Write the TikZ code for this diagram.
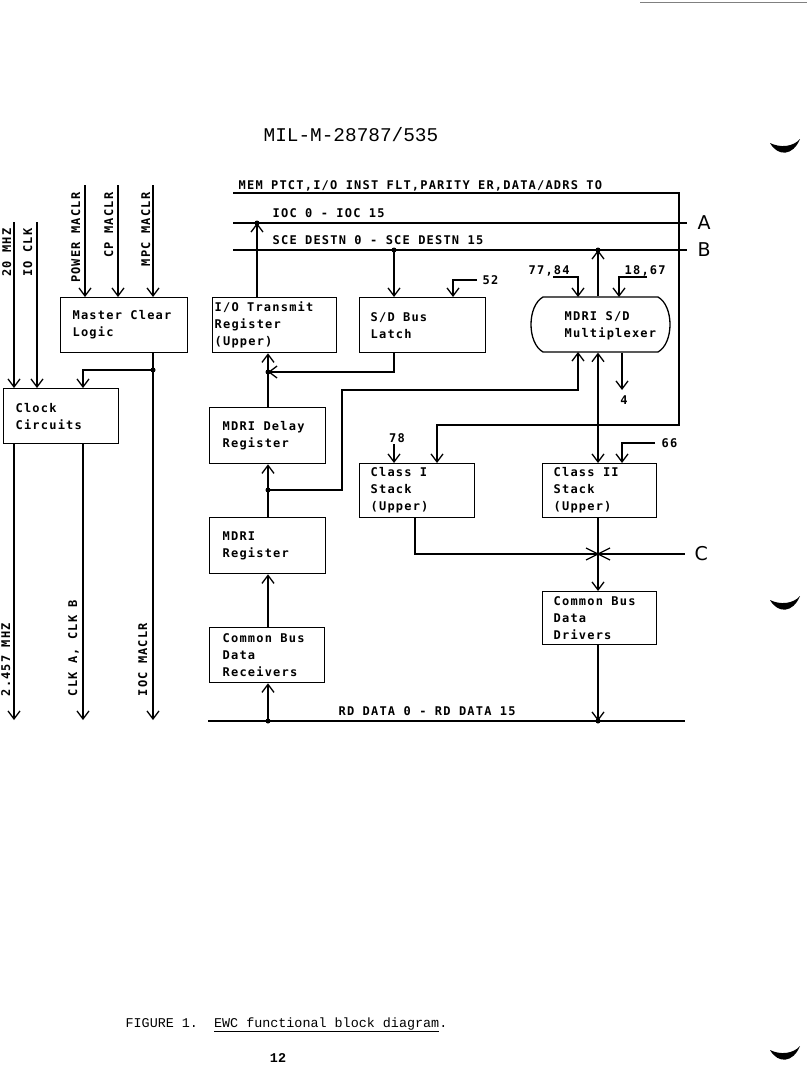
\documentclass[tikz,border=0pt]{standalone}
\usepackage{fontspec}
\usetikzlibrary{arrows.meta,calc}
\newfontfamily\dmfont[LetterSpace=10]{DejaVu Sans Mono}
\newfontfamily\courfont{Liberation Mono}
\newfontfamily\plotfont{DejaVu Sans}
\begin{document}
\begin{tikzpicture}[x=1pt,y=-1pt,line width=1.3pt,
  arr/.style={-{Straight Barb[length=8pt,width=12pt]}},
  arrb/.style={{Straight Barb[length=8pt,width=12pt]}-{Straight Barb[length=8pt,width=12pt]}},
  bx/.style={draw,rectangle,anchor=north west,inner sep=0pt},
  bt/.style={font=\dmfont\bfseries\fontsize{12}{17}\selectfont,align=left,anchor=west,inner sep=0pt},
  lbl/.style={font=\dmfont\bfseries\fontsize{12}{14}\selectfont,inner sep=0pt},
  vl/.style={lbl,rotate=90},
  big/.style={font=\plotfont\fontsize{19}{19}\selectfont,inner sep=0pt},
  jdot/.style={circle,fill,inner sep=0pt,minimum size=5pt},
  pagemark/.style={fill=black}]
\useasboundingbox (0,0) rectangle (807,1070);
\fill[white] (0,0) rectangle (807,1070);

% page furniture
\draw[line width=0.8pt,gray] (640,2) -- (807,2);
\node[font=\courfont\fontsize{19.4}{22}\selectfont,anchor=base west,inner sep=0pt] (title) at (263,142) {MIL-M-28787/535};
\fill[pagemark] (770,143) .. controls (778,157) and (793,156) .. (800,139) .. controls (793,147) and (780,148) .. cycle;
\fill[pagemark] (770,600) .. controls (778,614) and (793,613) .. (800,596) .. controls (793,604) and (780,605) .. cycle;
\fill[pagemark] (770,1050) .. controls (778,1064) and (793,1063) .. (800,1046) .. controls (793,1054) and (780,1055) .. cycle;
\node[font=\courfont\fontsize{13.4}{16}\selectfont,anchor=base west,inner sep=0pt] (cap) at (125,1027) {FIGURE 1.\ \ \underline{EWC functional block diagram}.};
\node[font=\courfont\bfseries\fontsize{13.4}{16}\selectfont,inner sep=0pt] (pg) at (278,1058) {12};

% boxes
\node[bx,minimum width=127pt,minimum height=55pt] (mcl) at (60,297) {};
\node[bx,minimum width=115pt,minimum height=55pt] (clk) at (3,388) {};
\node[bx,minimum width=124pt,minimum height=55pt] (iot) at (212,297) {};
\node[bx,minimum width=126pt,minimum height=55pt] (sdl) at (359,297) {};
\node[inner sep=0pt,minimum width=139pt,minimum height=55pt] (mux) at (600.5,324.5) {};
\draw (543,297) -- (658,297) .. controls (674,306) and (674,343) .. (658,352) -- (543,352) .. controls (527,343) and (527,306) .. cycle;
\node[bx,minimum width=116pt,minimum height=56pt] (mdd) at (209,407) {};
\node[bx,minimum width=116pt,minimum height=56pt] (mdr) at (209,517) {};
\node[bx,minimum width=115pt,minimum height=55pt] (cbr) at (209,627) {};
\node[bx,minimum width=115pt,minimum height=54pt] (cs1) at (359,463) {};
\node[bx,minimum width=114pt,minimum height=54pt] (cs2) at (542,463) {};
\node[bx,minimum width=114pt,minimum height=53pt] (cbd) at (542,591) {};

% box texts
\node[bt] (mclT) at ($(mcl.west)+(12,0)$) {Master Clear\\Logic};
\node[bt] (clkT) at ($(clk.west)+(12,0)$) {Clock\\Circuits};
\node[bt] (iotT) at ($(iot.west)+(2,0)$) {I/O Transmit\\Register\\(Upper)};
\node[bt] (sdlT) at ($(sdl.west)+(11,0)$) {S/D Bus\\Latch};
\node[bt] (muxT) at (564,326) {MDRI S/D\\Multiplexer};
\node[bt] (mddT) at ($(mdd.west)+(13,0)$) {MDRI Delay\\Register};
\node[bt] (mdrT) at ($(mdr.west)+(13,0)$) {MDRI\\Register};
\node[bt] (cbrT) at ($(cbr.west)+(13,0)$) {Common Bus\\Data\\Receivers};
\node[bt] (cs1T) at ($(cs1.west)+(11,0)$) {Class I\\Stack\\(Upper)};
\node[bt] (cs2T) at ($(cs2.west)+(11,0)$) {Class II\\Stack\\(Upper)};
\node[bt] (cbdT) at ($(cbd.west)+(11,0)$) {Common Bus\\Data\\Drivers};

% coordinates
\coordinate (memL) at (233,193); \coordinate (memR) at (679,193);
\coordinate (iocL) at (233,223); \coordinate (iocR) at (687,223);
\coordinate (sceL) at (233,250); \coordinate (sceR) at (687,250);
\coordinate (rdL) at (208,721);  \coordinate (rdR) at (685,721);
\coordinate (cR) at (685,554);
\coordinate (jIOC) at (257,223); \coordinate (jSCE) at (394,250);
\coordinate (jB) at (598,250);   \coordinate (j1) at (268,372);
\coordinate (j2) at (268,490);   \coordinate (jrd1) at (268,721);
\coordinate (jrd2) at (598,721); \coordinate (jC) at (598,554);
\coordinate (jM) at (153,370);
\coordinate (k1) at (342,390);   \coordinate (kmux1) at (578,352);
\coordinate (k2) at (415,517);   \coordinate (k3) at (437,425);
\coordinate (k4) at (622,390);
\coordinate (c52) at (477,280);  \coordinate (k52) at (453,297);
\coordinate (c7784) at (553,277); \coordinate (k77) at (578,297);
\coordinate (c1867) at (647,277); \coordinate (k18) at (619,297);
\coordinate (c78) at (394,444);
\coordinate (c66) at (655,443);  \coordinate (k66) at (622,463);
\coordinate (t20) at (14,222);   \coordinate (tio) at (37,222);
\coordinate (tpw) at (85,185);   \coordinate (tcp) at (118,185);
\coordinate (tmpc) at (153,185);
\coordinate (k5) at (83,388);
\coordinate (b1) at (14,720); \coordinate (b2) at (83,720); \coordinate (b3) at (153,720);

% buses
\draw[arr] (memL) -- (memR) |- (k3) -- (k3 |- cs1.north);
\draw (iocL) -- (iocR);
\draw (sceL) -- (sceR);
\draw (rdL) -- (rdR);
\draw (k2) |- (cR);
\node[big,anchor=west] (lA) at (697,223) {A};
\node[big,anchor=west] (lB) at (697,250) {B};
\node[big,anchor=west] (lC) at (694,554) {C};

\node[lbl,anchor=base west] (tMem) at (238,189) {MEM PTCT,I/O INST FLT,PARITY ER,DATA/ADRS TO};
\node[lbl,anchor=base west] (tIoc) at (272,217) {IOC 0 - IOC 15};
\node[lbl,anchor=base west] (tSce) at (272,244) {SCE DESTN 0 - SCE DESTN 15};
\node[lbl,anchor=base west] (tRd) at (338,715) {RD DATA 0 - RD DATA 15};

% centre connectors
\draw[arr] (iot.north -| jIOC) -- (jIOC);
\draw[arr] (jSCE) -- (jSCE |- sdl.north);
\draw[arr] (c52) -| (k52);
\node[lbl,anchor=base west] (n52) at (482,284) {52};
\draw[arr] (sdl.south -| jSCE) |- (j1);
\draw[arr] (j1) -- (j1 |- iot.south);
\draw (j1 |- mdd.north) -- (j1);
\draw[arr] (j2) -- (j2 |- mdd.south);
\draw (j2 |- mdr.north) -- (j2);
\draw[arr] (j2) -| (k1) -| (kmux1);
\draw[arr] (j2 |- cbr.north) -- (j2 |- mdr.south);
\draw[arr] (jrd1) -- (jrd1 |- cbr.south);
\draw[arr] (jrd2 |- cbd.south) -- (jrd2);
\draw (jC |- cs2.south) -- (jC);
\draw[arr] (jC) -- (jC |- cbd.north);
\draw (586,548) -- (610,560);
\draw (586,560) -- (610,548);
\draw[arr] (jB |- mux.north) -- (jB);
\draw[arrb] (jB |- mux.south) -- (jB |- cs2.north);
\draw[arr] (k4 |- mux.south) -- (k4);
\node[lbl,anchor=base] (n4) at (624,404) {4};
\draw[arr] (c7784) -| (k77);
\node[lbl,anchor=base west] (n77) at (528,274) {77,84};
\draw[arr] (c1867) -| (k18);
\node[lbl,anchor=base west] (n18) at (624,274) {18,67};
\draw[arr] (c78) -- (c78 |- cs1.north);
\node[lbl,anchor=base] (n78) at (397,442) {78};
\draw[arr] (c66) -| (k66);
\node[lbl,anchor=base west] (n66) at (661,447) {66};

% left side
\draw[arr] (t20) -- (t20 |- clk.north);
\draw[arr] (tio) -- (tio |- clk.north);
\draw[arr] (tpw) -- (tpw |- mcl.north);
\draw[arr] (tcp) -- (tcp |- mcl.north);
\draw[arr] (tmpc) -- (tmpc |- mcl.north);
\draw[arr] (mcl.south -| tmpc) -- (b3);
\draw[arr] (jM) -| (k5);
\draw[arr] (clk.south -| b1) -- (b1);
\draw[arr] (clk.south -| b2) -- (b2);

\node[vl,anchor=base east] (v20) at (11,228) {20 MHZ};
\node[vl,anchor=base east] (vio) at (32,228) {IO CLK};
\node[vl,anchor=base east] (vpw) at (80,192) {POWER MACLR};
\node[vl,anchor=base east] (vcp) at (113,192) {CP MACLR};
\node[vl,anchor=base east] (vmpc) at (150,192) {MPC MACLR};
\node[vl,anchor=base west] (v24) at (10,697) {2.457 MHZ};
\node[vl,anchor=base west] (vck) at (77,697) {CLK A, CLK B};
\node[vl,anchor=base west] (vioc) at (147,697) {IOC MACLR};

% junction dots
\foreach \p in {jIOC,jSCE,jB,j1,j2,jrd1,jrd2,jM}
  \node[jdot] at (\p) {};
\end{tikzpicture}
\end{document}
